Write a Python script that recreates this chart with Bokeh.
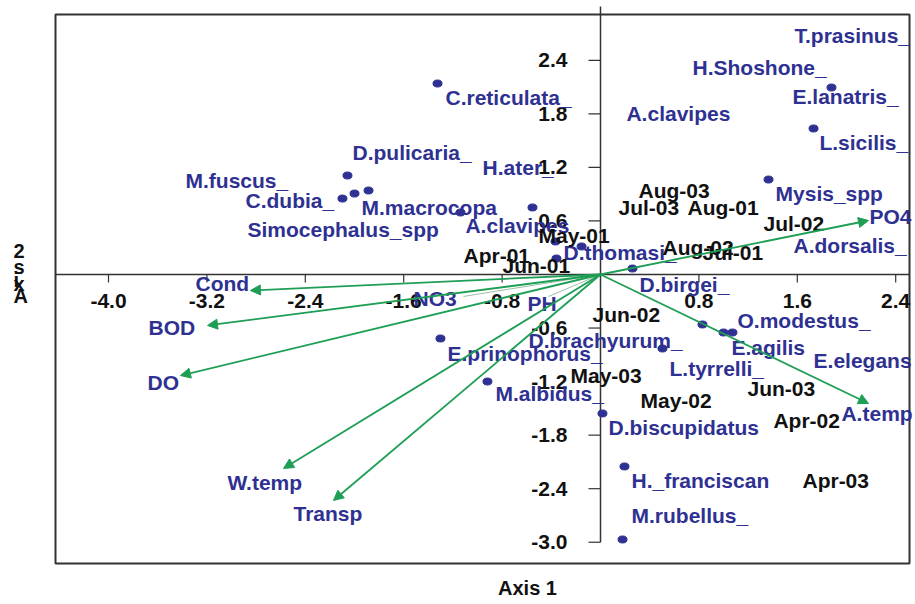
from bokeh.plotting import figure
from bokeh.models import ColumnDataSource, Arrow, NormalHead
from bokeh.core.properties import value
from bokeh.embed import file_html
from bokeh.resources import INLINE

# ---------------- data ----------------
# species scores (dots)
dot_x = [-1.325, -2.057, -2.098, -2.000, -1.886, -1.138, -0.553, -0.366, -0.154,
         -0.358, 0.260, 1.878, 1.732, 1.366, 0.829, 1.000, 1.073, 0.504, -1.301,
         -0.919, 0.016, 0.195, 0.179]
dot_y = [2.140, 1.109, 0.851, 0.907, 0.941, 0.695, 0.751, 0.370, 0.314,
         0.179, 0.067, 2.095, 1.636, 1.064, -0.560, -0.650, -0.650, -0.829, -0.717,
         -1.199, -1.557, -2.151, -2.969]

# species labels
species_names = ["C.reticulata_", "D.pulicaria_", "M.fuscus_", "C.dubia_", "M.macrocopa",
                 "Simocephalus_spp", "H.ater_", "A.clavipes", "D.thomasi_",
                 "E.prinophorus_", "D.brachyurum_", "M.albidus_", "D.birgei_",
                 "O.modestus_", "E.agilis", "E.elegans", "L.tyrrelli_", "A.temp",
                 "D.biscupidatus", "H._franciscan", "M.rubellus_", "T.prasinus_",
                 "H.Shoshone_", "E.lanatris_", "A.clavipes", "L.sicilis_",
                 "Mysis_spp", "A.dorsalis_"]
species_lx = [-1.260, -2.016, -3.374, -2.886, -1.943, -2.870, -0.959, -1.098, -0.301,
              -1.244, -0.585, -0.854, 0.317, 1.114, 1.065, 1.732, 0.561, 1.959,
              0.065, 0.252, 0.252, 1.577, 0.748, 1.561, 0.211, 1.780, 1.423, 1.569]
species_ly = [1.983, 1.367, 1.053, 0.829, 0.751, 0.504, 1.199, 0.549, 0.246,
              -0.885, -0.739, -1.333, -0.112, -0.515, -0.818, -0.963, -1.053, -1.557,
              -1.714, -2.308, -2.700, 2.678, 2.319, 1.994, 1.804, 1.479, 0.907, 0.325]

# sample (date) labels
sample_names = ["Aug-03", "Jul-03", "Aug-01", "May-01", "Apr-01", "Jun-01", "Aug-02",
                "Jul-01", "Jul-02", "Jun-02", "May-03", "May-02", "Jun-03", "Apr-02",
                "Apr-03"]
sample_x = [0.309, 0.146, 0.707, -0.504, -1.114, -0.797, 0.504, 0.829, 1.325, -0.065,
            -0.244, 0.325, 1.195, 1.406, 1.642]
sample_y = [0.941, 0.751, 0.751, 0.437, 0.213, 0.101, 0.303, 0.246, 0.572, -0.448,
            -1.131, -1.411, -1.277, -1.636, -2.308]

# environmental vectors (arrow tips) and their labels
env_names = ["Cond", "BOD", "DO", "W.temp", "Transp", "PO4", "A.temp"]
env_x = [-2.846, -3.195, -3.415, -2.577, -2.171, 2.179, 2.179]
env_y = [-0.179, -0.571, -1.132, -2.173, -2.532, 0.605, -1.445]
env_label_names = ["Cond", "BOD", "DO", "W.temp", "Transp", "NO3", "PH", "PO4"]
env_lx = [-3.293, -3.675, -3.683, -3.033, -2.496, -1.520, -0.593, 2.187]
env_ly = [-0.101, -0.594, -1.210, -2.330, -2.678, -0.269, -0.325, 0.650]
# weak vectors (thin lines)
weak_names = ["NO3", "PH"]
weak_x = [-1.114, -0.423]
weak_y = [-0.246, -0.246]

x_ticks = [-4.0, -3.2, -2.4, -1.6, -0.8, 0.8, 1.6, 2.4]
y_ticks = [2.4, 1.8, 1.2, 0.6, -0.6, -1.2, -1.8, -2.4, -3.0]
x_tick_labels = ["-4.0", "-3.2", "-2.4", "-1.6", "-0.8", "0.8", "1.6", "2.4"]
y_tick_labels = ["2.4", "1.8", "1.2", "0.6", "-0.6", "-1.2", "-1.8", "-2.4", "-3.0"]

x_title = "Axis 1"
y_title = "Axis 2"

# ---------------- style / layout ----------------
NAVY = "#2e3192"
GREEN = "#1f9e55"
BLACK = "#111111"
AXIS = "#333333"
FONT = value("Liberation Sans")
FS = "21px"

W, H = 913, 602
PX_X = 123.0          # pixels per unit, axis 1
PX_Y = 89.25          # pixels per unit, axis 2
X0, Y0 = 600.0, 274.0  # pixel position of the origin
X_RANGE = (-X0 / PX_X, (W - X0) / PX_X)
Y_RANGE = ((Y0 - H) / PX_Y, Y0 / PX_Y)
# plotting box (the drawn frame)
BOX = dict(left=(55 - X0) / PX_X, right=(909 - X0) / PX_X,
           top=(Y0 - 14) / PX_Y, bottom=(Y0 - 563) / PX_Y)

p = figure(width=W, height=H, x_range=X_RANGE, y_range=Y_RANGE,
           x_axis_type=None, y_axis_type=None, toolbar_location=None,
           output_backend="svg", min_border=0, min_border_left=0,
           min_border_right=0, min_border_top=0, min_border_bottom=0)
p.outline_line_color = None
p.background_fill_color = "white"
p.border_fill_color = "white"

# frame box
p.quad(left=[BOX["left"]], right=[BOX["right"]], top=[BOX["top"]], bottom=[BOX["bottom"]],
       fill_color=None, line_color=AXIS, line_width=2)

# cross axes
p.segment(x0=[BOX["left"]], y0=[0], x1=[BOX["right"]], y1=[0], line_color=AXIS, line_width=1.5)
p.segment(x0=[0], y0=[min(y_ticks)], x1=[0], y1=[(Y0 - 6) / PX_Y], line_color=AXIS, line_width=1.5)

# ticks
p.segment(x0=x_ticks, y0=[0] * len(x_ticks), x1=x_ticks, y1=[-8 / PX_Y] * len(x_ticks),
          line_color=AXIS, line_width=1.2)
p.segment(x0=[0] * len(y_ticks), y0=y_ticks, x1=[-12 / PX_X] * len(y_ticks), y1=y_ticks,
          line_color=AXIS, line_width=1.2)
p.text(x=x_ticks, y=[0] * len(x_ticks), text=x_tick_labels, y_offset=26,
       text_align="center", text_baseline="middle", text_font=FONT,
       text_font_style="bold", text_font_size=FS, text_color=BLACK)
p.text(x=[0] * len(y_ticks), y=y_ticks, text=y_tick_labels, x_offset=-33,
       text_align="right", text_baseline="middle", text_font=FONT,
       text_font_style="bold", text_font_size=FS, text_color=BLACK)

# weak vectors
p.segment(x0=[0] * len(weak_x), y0=[0] * len(weak_y), x1=weak_x, y1=weak_y,
          line_color="#9bbfa8", line_width=1.0)

# environmental arrows
asrc = ColumnDataSource(dict(x0=[0] * len(env_x), y0=[0] * len(env_y), x1=env_x, y1=env_y))
p.add_layout(Arrow(end=NormalHead(size=10, fill_color=GREEN, line_color=GREEN),
                   x_start="x0", y_start="y0", x_end="x1", y_end="y1", source=asrc,
                   line_color=GREEN, line_width=1.8))

# species dots
p.ellipse(x=dot_x, y=dot_y, width=9, height=7, width_units="screen", height_units="screen",
          fill_color=NAVY, line_color=NAVY)

# labels
p.text(x=species_lx, y=species_ly, text=species_names, text_align="left",
       text_baseline="middle", text_font=FONT, text_font_style="bold",
       text_font_size=FS, text_color=NAVY)
p.text(x=env_lx, y=env_ly, text=env_label_names, text_align="left",
       text_baseline="middle", text_font=FONT, text_font_style="bold",
       text_font_size=FS, text_color=NAVY)
p.text(x=sample_x, y=sample_y, text=sample_names, text_align="left",
       text_baseline="middle", text_font=FONT, text_font_style="bold",
       text_font_size=FS, text_color=BLACK)

# axis titles
p.text(x=[(527 - X0) / PX_X], y=[(Y0 - 587) / PX_Y], text=[x_title],
       text_align="center", text_baseline="middle", text_font=FONT,
       text_font_style="bold", text_font_size="20px", text_color=BLACK)
# "Axis 2": upright characters stacked from bottom to top
y_chars = [c for c in y_title if c != " "]
y_char_px = [295, 283, 279, 266, 250]
p.text(x=[(13 - X0) / PX_X] * len(y_chars), y=[(Y0 - v) / PX_Y for v in y_char_px],
       text=y_chars, text_align="left", text_baseline="middle", text_font=FONT,
       text_font_style="bold", text_font_size="20px", text_color=BLACK)

open("out.html", "w").write(file_html(p, INLINE))
